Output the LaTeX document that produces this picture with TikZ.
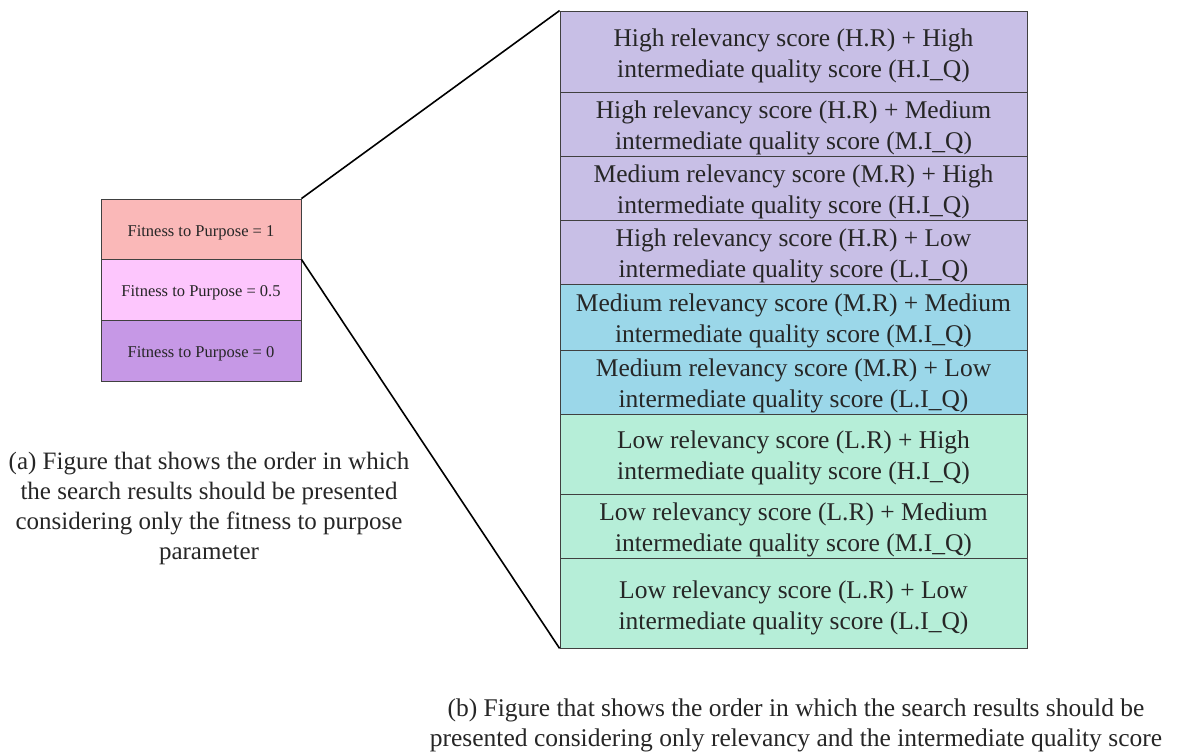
\documentclass[tikz,border=0pt]{standalone}
\usepackage{fontspec}
\setmainfont{Liberation Serif}
\begin{document}
\begin{tikzpicture}[x=1pt,y=-1pt,
  lbox/.style={draw=black!75,line width=0.8pt,minimum width=200pt,inner sep=0pt,font=\fontsize{16.5}{18}\selectfont,text=black!85,text height=17pt,text depth=3pt},
  rbox/.style={draw=black!75,line width=0.8pt,minimum width=467pt,inner sep=0pt},
  rtext/.style={inner sep=0pt,align=center,font=\fontsize{25.5}{30.5}\selectfont,text=black!85},
  captext/.style={align=center,text=black!85,inner sep=0pt}]
\useasboundingbox (0,0) rectangle (1178,752);
\definecolor{cA}{HTML}{FAB8B8}
\definecolor{cB}{HTML}{FDC6FD}
\definecolor{cC}{HTML}{C698E6}
\definecolor{cP}{HTML}{C8BFE6}
\definecolor{cBl}{HTML}{9BD7E9}
\definecolor{cG}{HTML}{B6EED8}
% left boxes
\node[lbox,fill=cA,minimum height=60pt] (l1) at (201,229) {Fitness to Purpose = 1};
\node[lbox,fill=cB,minimum height=61pt] (l2) at (201,289.5) {Fitness to Purpose = 0.5};
\node[lbox,fill=cC,minimum height=61pt] (l3) at (201,350.5) {Fitness to Purpose = 0};
% right boxes
\node[rbox,fill=cP,minimum height=81pt] (r1) at (793.5,51.5) {};
\node[rbox,fill=cP,minimum height=64pt] (r2) at (793.5,124) {};
\node[rbox,fill=cP,minimum height=64pt] (r3) at (793.5,188) {};
\node[rbox,fill=cP,minimum height=64pt] (r4) at (793.5,252) {};
\node[rbox,fill=cBl,minimum height=66pt] (r5) at (793.5,317) {};
\node[rbox,fill=cBl,minimum height=64pt] (r6) at (793.5,382) {};
\node[rbox,fill=cG,minimum height=80pt] (r7) at (793.5,454) {};
\node[rbox,fill=cG,minimum height=64pt] (r8) at (793.5,526) {};
\node[rbox,fill=cG,minimum height=90pt] (r9) at (793.5,603) {};
\node[rtext] (t1) at (793.5,56) {High relevancy score (H.R) + High\\intermediate quality score (H.I\_Q)};
\node[rtext] (t2) at (793.5,128) {High relevancy score (H.R) + Medium\\intermediate quality score (M.I\_Q)};
\node[rtext] (t3) at (793.5,192) {Medium relevancy score (M.R) + High\\intermediate quality score (H.I\_Q)};
\node[rtext] (t4) at (793.5,256) {High relevancy score (H.R) + Low\\intermediate quality score (L.I\_Q)};
\node[rtext] (t5) at (793.5,321) {Medium relevancy score (M.R) + Medium\\intermediate quality score (M.I\_Q)};
\node[rtext] (t6) at (793.5,386) {Medium relevancy score (M.R) + Low\\intermediate quality score (L.I\_Q)};
\node[rtext] (t7) at (793.5,458) {Low relevancy score (L.R) + High\\intermediate quality score (H.I\_Q)};
\node[rtext] (t8) at (793.5,530) {Low relevancy score (L.R) + Medium\\intermediate quality score (M.I\_Q)};
\node[rtext] (t9) at (793.5,608) {Low relevancy score (L.R) + Low\\intermediate quality score (L.I\_Q)};
% connectors
\draw[line width=1.6pt] (l1.north east) -- (r1.north west);
\draw[line width=1.6pt] (l1.south east) -- (r9.south west);
% captions
\node[captext,font=\fontsize{25}{30}\selectfont] (ca) at (209,508) {(a) Figure that shows the order in which\\the search results should be presented\\considering only the fitness to purpose\\parameter};
\node[captext,font=\fontsize{25.5}{30}\selectfont] (cb) at (796,725) {(b) Figure that shows the order in which the search results should be\\presented considering only relevancy and the intermediate quality score};
\end{tikzpicture}
\end{document}
